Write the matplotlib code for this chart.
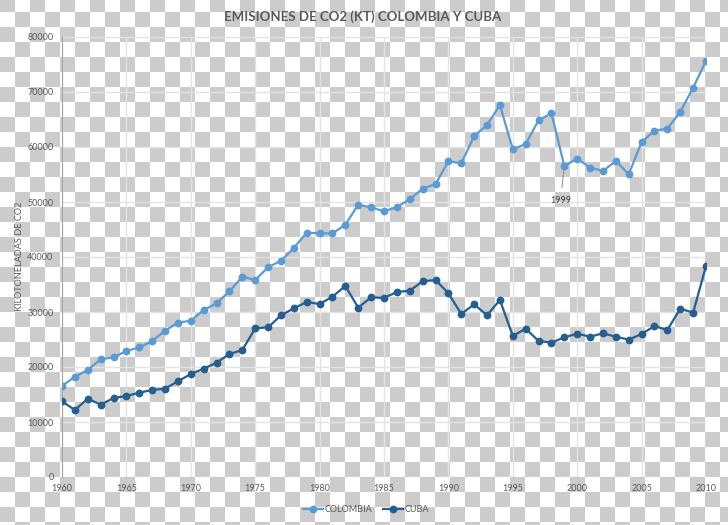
import numpy as np
import matplotlib
matplotlib.use("Agg")
import matplotlib.pyplot as plt
from matplotlib.lines import Line2D

years = list(range(1960, 2011))
colombia = [16545, 18240, 19450, 21400, 21760, 22900, 23580, 24730, 26600, 28060,
            28420, 30360, 31580, 33760, 36420, 35820, 38130, 39330, 41640, 44420,
            44300, 44300, 45870, 49510, 49030, 48300, 49090, 50480, 52420, 53270,
            57400, 57030, 62000, 64000, 67640, 59580, 60550, 64850, 66120, 56550,
            57880, 56240, 55640, 57450, 55030, 60910, 62970, 63330, 66360, 70790,
            75640]
cuba = [13760, 12180, 14240, 13150, 14360, 14730, 15330, 15820, 16060, 17400,
        18730, 19700, 20790, 22360, 23090, 27030, 27210, 29390, 30670, 31820,
        31450, 32790, 34730, 30790, 32670, 32550, 33640, 33880, 35580, 35820,
        33400, 29640, 31400, 29400, 32180, 25640, 26970, 24730, 24420, 25400,
        26060, 25510, 26120, 25510, 24970, 26000, 27450, 26730, 30610, 29880,
        38360]
series_names = ["COLOMBIA", "CUBA"]
title = "EMISIONES DE CO2 (KT) COLOMBIA Y CUBA"
ylabel = "KILOTONELADAS DE CO2"
annot_year = 1999
annot_label = "1999"

W, H = 728, 525
fig = plt.figure(figsize=(W / 100, H / 100), dpi=100)
fig.patch.set_facecolor("white")

# transparency-style checkerboard background
yy, xx = np.mgrid[0:H, 0:W]
cells = ((xx // 15) + ((yy + 3) // 15)) % 2 == 0
bg = np.ones((H, W, 3))
bg[cells] = 0.80
fig.figimage(bg, xo=0, yo=0, origin="upper", zorder=0)

ax = fig.add_axes([62 / W, (H - 477) / H, (706 - 62) / W, (477 - 37) / H])
ax.set_facecolor("none")
ax.set_zorder(1)

c_col = "#5B9BD5"
c_cub = "#255E91"
ax.plot(years, colombia, color=c_col, lw=1.6, marker="o", ms=4.6, zorder=3)
ax.plot(years, cuba, color=c_cub, lw=1.6, marker="o", ms=4.6, zorder=3)

ax.set_xlim(1960, 2010)
ax.set_ylim(0, 80000)
ax.set_xticks(range(1960, 2011, 5))
ax.set_yticks(range(0, 80001, 10000))
ax.grid(True, color="#E3E3E3", lw=1.0, zorder=1)
ax.set_axisbelow(True)
for s in ["top", "right", "bottom"]:
    ax.spines[s].set_visible(False)
ax.spines["left"].set_color("#A6A6A6")
ax.spines["left"].set_linewidth(0.8)
ax.tick_params(length=0, labelsize=6.5, labelcolor="#595959", pad=6)
ax.tick_params(axis="x", pad=5)
for lab in ax.get_xticklabels() + ax.get_yticklabels():
    lab.set_family(["Liberation Sans Narrow", "Lato"])

fig.text(20 / W, 1 - 256 / H, ylabel, rotation=90, ha="center", va="center",
         fontsize=6.6, color="#595959", family=["Liberation Sans Narrow", "Lato"])
fig.text(363 / W, 1 - 17 / H, title, ha="center", va="center", fontsize=9.5,
         fontweight="bold", color="#595959", family=["Liberation Sans Narrow", "Lato"])

i = years.index(annot_year)
ax.annotate(annot_label, xy=(annot_year, colombia[i]), xytext=(1998.7, 50300),
            ha="center", va="center", fontsize=6.5, color="#404040",
            family=["Liberation Sans Narrow", "Lato"],
            arrowprops=dict(arrowstyle="-", color="#8C8C8C", lw=0.7,
                            shrinkA=4, shrinkB=2))

handles = [Line2D([], [], color=c_col, lw=1.6, marker="o", ms=4.6),
           Line2D([], [], color=c_cub, lw=1.6, marker="o", ms=4.6)]
leg = fig.legend(handles, series_names, loc="center", bbox_to_anchor=(366 / W, 1 - 510 / H),
                 ncol=2, frameon=False, fontsize=6.5, handlelength=2.2,
                 handletextpad=0.2, columnspacing=1.2,
                 prop={"family": ["Liberation Sans Narrow", "Lato"], "size": 6.5})
for t in leg.get_texts():
    t.set_color("#595959")

fig.savefig("out.png", dpi=100)
